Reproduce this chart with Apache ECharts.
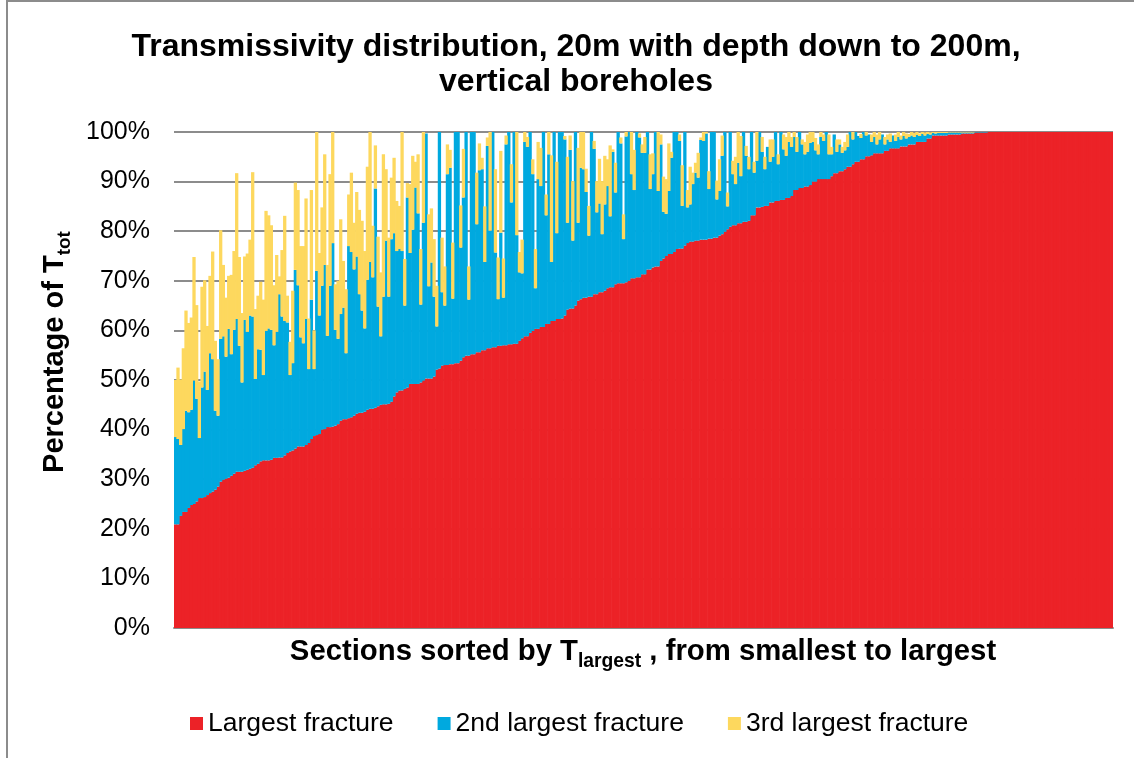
<!DOCTYPE html>
<html>
<head>
<meta charset="utf-8">
<script src="https://cdn.jsdelivr.net/npm/echarts@6/dist/echarts.min.js"></script>
<style>html,body{margin:0;padding:0;background:#fff;}#c{width:1134px;height:758px;}</style>
</head>
<body>
<div id="c"></div>
<script>
// Share of total transmissivity (%) carried by the largest fracture, per section (sorted)
const largest = [
20.9,20.9,22.6,23.4,23.4,24.2,24.8,25.0,25.5,26.2,26.2,26.4,26.8,27.2,27.5,27.9,28.5,29.5,29.9,30.1,30.3,30.7,31.1,31.5,31.5,31.5,31.7,31.9,32.1,32.3,32.8,33.1,33.6,33.8,33.8,33.8,33.9,34.3,34.3,34.4,34.4,34.8,35.3,35.6,
35.8,36.2,36.6,36.6,36.6,36.9,37.3,38.1,38.7,38.9,39.1,40.0,40.1,40.5,40.5,40.6,40.8,41.1,41.8,42.1,42.1,42.3,42.5,42.8,43.2,43.4,43.4,43.6,44.0,44.2,44.2,44.4,44.7,45.0,45.1,45.1,45.2,45.6,46.7,47.5,47.9,47.9,48.2,48.5,
49.2,49.2,49.2,49.2,49.5,49.9,50.3,50.3,50.3,50.7,52.1,52.3,52.9,53.0,53.0,53.2,53.2,53.4,53.4,53.9,54.6,54.9,54.9,55.2,55.2,55.6,55.6,56.0,56.0,56.4,56.4,56.6,56.6,56.9,56.9,57.0,57.0,57.2,57.2,57.3,57.3,57.9,58.4,58.8,
58.8,59.5,59.9,60.3,60.3,60.7,60.7,61.3,61.3,61.9,61.9,62.3,62.3,62.4,63.0,64.2,64.4,64.4,65.0,66.0,66.3,66.6,66.6,66.8,66.8,67.3,67.3,67.7,67.7,68.0,68.5,68.7,68.7,69.3,69.5,69.5,69.5,69.7,70.0,70.5,70.5,70.7,70.7,71.3,
71.3,72.3,72.3,72.7,72.9,72.9,74.0,74.5,75.0,75.4,75.4,75.8,76.4,76.5,76.5,77.1,77.6,77.9,77.9,78.1,78.1,78.3,78.3,78.3,78.5,78.5,78.7,78.7,79.1,79.4,79.9,80.4,80.9,81.2,81.2,81.6,81.6,81.9,81.9,82.1,83.2,83.2,84.8,84.8,
84.9,85.1,85.1,85.8,85.8,86.1,86.1,86.3,86.3,86.7,86.7,87.1,88.3,88.3,88.7,88.7,89.0,89.0,89.3,90.0,90.0,90.5,90.5,90.5,90.5,90.5,91.1,91.7,91.7,92.1,92.1,92.5,93.0,93.0,93.5,94.0,94.0,94.5,94.5,95.1,95.1,
95.3,95.7,95.7,95.7,95.7,96.2,96.2,96.7,96.7,96.7,96.7,97.1,97.1,97.1,97.5,97.5,97.5,98.0,98.0,98.0,98.0,98.7,98.7,99.3,99.3,99.3,99.3,99.3,99.3,99.5,99.5,99.5,99.5,99.5,99.7,99.7,99.7,99.7,99.7,99.9,99.9,99.9,99.9,99.9,
100,100,100,100,100,100,100,100,100,100,100,100,100,100,100,100,100,100,100,100,100,100,100,100,100,100,100,100,100,100,100,100,100,100,100,100,100,100,100,100,100,100,100,100,100,100,100
];
// Share (%) of the 2nd largest fracture
const second = [
17.6,17.2,14.3,16.7,20.4,19.3,19.2,24.9,20.7,12.1,22.3,25.3,21.2,28.2,26.7,15.9,14.3,28.8,28.9,24.6,30.0,24.5,29.0,30.8,25.4,18.0,30.4,27.8,30.9,30.5,17.4,23.1,22.5,17.2,26.1,26.6,26.2,22.7,25.4,32.9,28.4,27.1,26.3,15.4,
17.6,36.0,32.5,22.0,20.8,25.4,14.9,28.1,13.5,33.1,23.9,29.0,33.1,18.4,28.5,37.0,19.3,17.2,21.5,22.5,13.3,34.7,33.3,29.5,31.7,23.9,20.6,16.8,26.2,29.6,26.5,44.2,20.1,13.8,21.7,33.0,21.6,32.8,32.9,28.5,28.5,28.1,16.8,38.3,
26.4,31.1,39.6,34.4,15.7,31.8,49.4,18.6,23.4,16.1,8.7,47.7,14.8,12.0,38.5,39.6,13.2,46.6,46.6,22.8,32.2,45.1,11.3,44.8,44.8,25.8,36.7,36.5,17.8,40.8,23.7,43.4,19.1,9.4,22.8,9.6,40.5,42.8,28.6,42.7,21.9,13.8,13.1,39.2,
38.2,40.5,31.6,8.2,30.2,28.4,39.3,21.9,34.2,11.9,38.1,17.3,37.7,37.6,35.5,17.5,32.0,13.7,35.0,15.7,26.5,25.9,21.3,12.3,33.2,29.3,16.5,17.9,11.7,17.4,20.6,14.3,27.3,18.5,30.5,28.2,8.9,29.4,30.0,21.0,17.8,29.3,28.2,24.5,
24.5,27.7,16.2,18.8,27.1,15.2,23.5,9.4,8.5,12.7,19.4,24.2,23.6,21.7,8.6,22.9,7.2,7.5,11.6,13.7,12.7,20.1,19.9,21.4,10.0,21.5,21.3,7.7,9.0,15.8,20.1,4.6,19.1,10.3,8.3,12.2,9.5,18.1,13.3,10.4,16.8,8.6,9.4,15.2,
11.1,7.4,11.9,8.2,9.2,13.9,7.4,13.7,10.2,8.5,11.3,9.9,10.7,7.7,11.3,8.8,6.5,7.0,8.5,8.0,6.3,5.0,8.5,7.7,9.5,5.0,4.4,7.8,4.3,5.4,3.7,3.8,4.0,7.0,5.0,6.0,5.2,4.3,5.5,4.2,4.4,
2.7,3.3,1.8,2.8,3.8,1.3,2.3,1.3,2.6,1.5,2.3,1.4,2.1,1.6,1.5,1.8,1.5,1.4,1.2,1.6,1.3,0.9,0.8,0.5,0.4,0.5,0.5,0.5,0.5,0.4,0.4,0.4,0.4,0.4,0.2,0.2,0.2,0.2,0.2,0.1,0.1,0.1,0.1,0.1,
0,0,0,0,0,0,0,0,0,0,0,0,0,0,0,0,0,0,0,0,0,0,0,0,0,0,0,0,0,0,0,0,0,0,0,0,0,0,0,0,0,0,0,0,0,0,0
];
// Share (%) of the 3rd largest fracture
const third = [
11.5,14.4,13.2,16.3,20.2,18.0,18.6,24.9,18.9,11.4,20.3,18.4,12.9,15.6,21.7,14.1,11.4,21.9,14.4,11.9,10.7,16.0,15.9,29.4,17.9,14.0,12.8,15.8,15.3,29.1,14.1,10.8,13.7,15.2,24.2,22.8,21.1,12.1,15.5,3.6,13.4,21.2,5.4,6.7,
14.6,17.6,19.2,18.4,19.6,24.3,10.2,22.1,7.8,28.0,12.6,15.8,22.3,14.3,22.5,22.4,9.2,11.7,19.1,9.4,12.9,10.4,16.0,9.4,13.0,17.0,18.1,15.6,22.8,26.2,10.4,8.7,14.1,12.9,28.7,14.4,11.9,12.4,15.2,10.1,8.7,24.0,9.4,2.9,
13.9,14.9,5.2,11.9,11.2,18.3,0,14.5,10.9,11.6,8.2,0,11.0,7.9,6.0,3.6,11.3,0,0,8.5,9.8,0,6.7,0,0,10.4,5.4,2.3,11.2,1.7,19.9,0,16.8,8.4,16.5,7.9,1.8,0,7.7,0,20.8,4.1,6.8,2.0,
2.0,0,3.0,7.9,7.5,7.7,0,4.2,4.5,21.5,0,14.4,0,0,0.7,13.3,2.9,12.0,0,15.1,7.2,7.5,4.7,6.0,0,1.6,6.3,9.0,10.7,9.8,5.4,14.3,0.5,6.0,0,1.2,5.0,0.9,0,8.5,8.1,0,0.8,1.7,
3.2,0,7.0,4.2,0,11.9,2.0,7.1,7.0,9.6,1.2,0,0,1.3,8.2,0,3.5,7.6,2.3,2.0,5.0,0.5,1.8,0.3,3.6,0,0,3.8,6.4,4.1,0,2.8,0,2.7,5.5,6.2,8.1,0,2.0,2.5,0,2.2,5.8,0,
3.0,2.5,0,4.5,3.5,0,2.0,0,3.0,3.8,2.0,2.0,1.0,3.0,0,1.0,2.5,3.5,2.2,2.0,2.5,2.0,1.0,1.3,0,4.0,1.5,0,2.5,1.0,1.2,1.7,2.5,0,1.5,0,0,0.8,0,0.7,0,
1.5,1.0,2.0,1.5,0,1.5,1.0,1.7,0,1.3,1.0,0.8,0.8,1.0,0.6,0.7,0.8,0.6,0.5,0.4,0.6,0.4,0.4,0.2,0.3,0.2,0.2,0.2,0.2,0.1,0.1,0.1,0.1,0.1,0.1,0.1,0.1,0.1,0.1,0,0,0,0,0,
0,0,0,0,0,0,0,0,0,0,0,0,0,0,0,0,0,0,0,0,0,0,0,0,0,0,0,0,0,0,0,0,0,0,0,0,0,0,0,0,0,0,0,0,0,0,0
];
const seriesNames = ['Largest fracture', '2nd largest fracture', '3rd largest fracture'];
const sections = largest.map((_, i) => i + 1);

const FONT = '"Liberation Sans", Arial, Helvetica, sans-serif';
const colors = ['#EC2227', '#00A9DF', '#FDD85E'];
const chart = echarts.init(document.getElementById('c'), null, {renderer: 'canvas'});

const option = {
  animation: false,
  backgroundColor: '#ffffff',
  grid: {left: 174, right: 21, top: 132, bottom: 130, containLabel: false, outerBoundsMode: 'none'},
  xAxis: {
    type: 'category', data: sections,
    axisLabel: {show: false}, axisTick: {show: false},
    axisLine: {show: true, lineStyle: {color: '#8c8c8c', width: 2}},
    splitLine: {show: false}
  },
  yAxis: {
    type: 'value', min: 0, max: 100, interval: 10,
    axisLabel: {formatter: '{value}%', fontSize: 25, color: '#000', fontFamily: FONT, margin: 24},
    axisLine: {show: false}, axisTick: {show: false},
    splitLine: {show: true, lineStyle: {color: '#8c8c8c', width: 2}}
  },
  legend: {
    data: seriesNames, left: 185, top: 705, orient: 'horizontal',
    icon: 'rect', itemWidth: 13, itemHeight: 13, itemGap: 44,
    selectedMode: false,
    textStyle: {fontSize: 26.5, color: '#000', fontFamily: FONT}
  },
  series: [largest, second, third].map((d, k) => ({
    name: seriesNames[k], type: 'bar', stack: 'total', data: d,
    barWidth: 3.3,
    itemStyle: {color: colors[k]},
    emphasis: {disabled: true},
    silent: true
  })),
  graphic: [
    {type: 'rect', silent: true, z: 100,
     shape: {x: 7, y: 1, width: 1300, height: 900},
     style: {fill: 'none', stroke: '#8c8c8c', lineWidth: 2}},
    {type: 'text', x: 576, y: 47, silent: true,
     style: {text: 'Transmissivity distribution, 20m with depth down to 200m,', font: 'bold 32px ' + FONT, fill: '#000', align: 'center', verticalAlign: 'middle'}},
    {type: 'text', x: 576, y: 82, silent: true,
     style: {text: 'vertical boreholes', font: 'bold 32px ' + FONT, fill: '#000', align: 'center', verticalAlign: 'middle'}},
    {type: 'text', x: 55, y: 352, rotation: Math.PI / 2, silent: true,
     style: {
       text: '{m|Percentage of T}{s|tot}', align: 'center', verticalAlign: 'middle',
       rich: {
         m: {fontSize: 29, fontWeight: 'bold', fontFamily: FONT, fill: '#000', lineHeight: 38, verticalAlign: 'middle'},
         s: {fontSize: 19, fontWeight: 'bold', fontFamily: FONT, fill: '#000', lineHeight: 38, verticalAlign: 'bottom'}
       }
     }},
    {type: 'text', x: 643, y: 652, silent: true,
     style: {
       text: '{m|Sections sorted by T}{s|largest}{m| , from smallest to largest}', align: 'center', verticalAlign: 'middle',
       rich: {
         m: {fontSize: 29.3, fontWeight: 'bold', fontFamily: FONT, fill: '#000', lineHeight: 38, verticalAlign: 'middle'},
         s: {fontSize: 19.3, fontWeight: 'bold', fontFamily: FONT, fill: '#000', lineHeight: 38, verticalAlign: 'bottom'}
       }
     }}
  ]
};
chart.setOption(option);
</script>
</body>
</html>
